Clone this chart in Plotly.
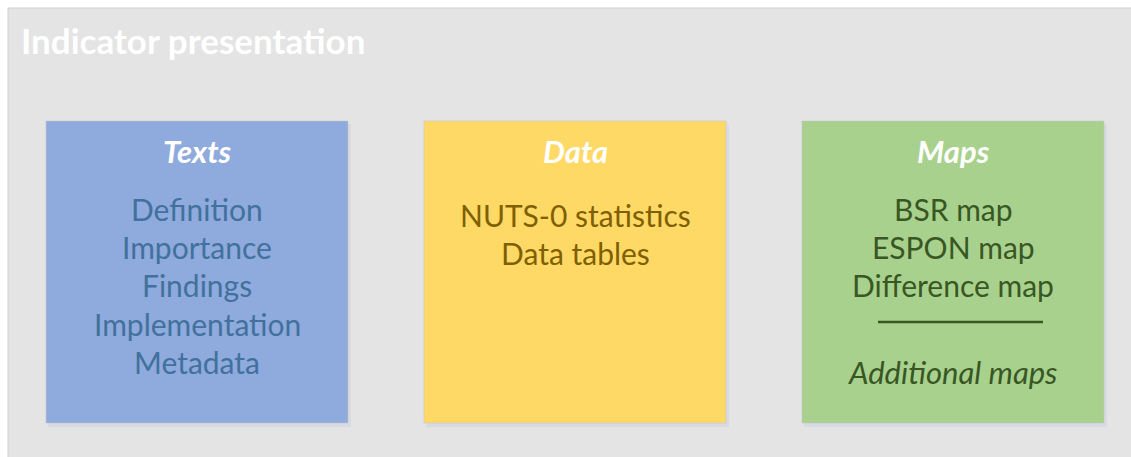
import plotly.graph_objects as go

W, H = 1131, 457
FONT = "Lato"

title = "Indicator presentation"
box_titles = ["Texts", "Data", "Maps"]
box_items = [
    ["Definition", "Importance", "Findings", "Implementation", "Metadata"],
    ["NUTS-0 statistics", "Data tables"],
    ["BSR map", "ESPON map", "Difference map"],
]
extra_item = "Additional maps"

box_x0 = [46, 424, 802]
box_w = 302
box_y0, box_y1 = 121, 423
fills = ["#8FAADC", "#FFD966", "#A9D18E"]
text_cols = ["#41719C", "#7F6000", "#385723"]
item_y0 = [209, 215, 209]
item_dy = 38.2

fig = go.Figure()
shapes = []
annotations = []

# outer panel
shapes.append(dict(type="rect", x0=8, y0=8, x1=1140, y1=462,
                   fillcolor="#E4E4E4", line=dict(color="#D0D0D0", width=1), layer="below"))
annotations.append(dict(x=19, y=40, text="<b>" + title + "</b>", showarrow=False,
                        xanchor="left", yanchor="middle",
                        font=dict(family=FONT, size=35, color="#FFFFFF")))

for i in range(3):
    x0 = box_x0[i]
    x1 = x0 + box_w
    cx = (x0 + x1) / 2
    # soft shadow
    shapes.append(dict(type="rect", x0=x0 + 2, y0=box_y0 + 3, x1=x1 + 3, y1=box_y1 + 4,
                       fillcolor="rgba(175,190,220,0.25)", line=dict(width=0), layer="below"))
    shapes.append(dict(type="rect", x0=x0, y0=box_y0, x1=x1, y1=box_y1,
                       fillcolor=fills[i], line=dict(color="#C8C8C8", width=0.6), layer="below"))
    annotations.append(dict(x=cx, y=151, text="<b><i>" + box_titles[i] + "</i></b>",
                            showarrow=False, xanchor="center", yanchor="middle",
                            font=dict(family=FONT, size=31, color="#FFFFFF")))
    for j, item in enumerate(box_items[i]):
        annotations.append(dict(x=cx, y=item_y0[i] + j * item_dy, text=item,
                                showarrow=False, xanchor="center", yanchor="middle",
                                font=dict(family=FONT, size=30, color=text_cols[i])))

# separator + additional maps
cx_m = box_x0[2] + box_w / 2
shapes.append(dict(type="line", x0=878, x1=1043, y0=322, y1=322,
                   line=dict(color="#385723", width=2.5)))
annotations.append(dict(x=cx_m, y=372, text="<i>" + extra_item + "</i>", showarrow=False,
                        xanchor="center", yanchor="middle",
                        font=dict(family=FONT, size=31, color="#385723")))

fig.update_layout(
    width=W, height=H,
    margin=dict(l=0, r=0, t=0, b=0),
    paper_bgcolor="#FFFFFF", plot_bgcolor="#FFFFFF",
    xaxis=dict(range=[0, W], visible=False, fixedrange=True),
    yaxis=dict(range=[H, 0], visible=False, fixedrange=True),
    shapes=shapes, annotations=annotations, showlegend=False,
)
fig.write_html("out.html", config={"displayModeBar": False},
               post_script="document.body.style.margin='0';document.body.style.overflow='hidden';")
